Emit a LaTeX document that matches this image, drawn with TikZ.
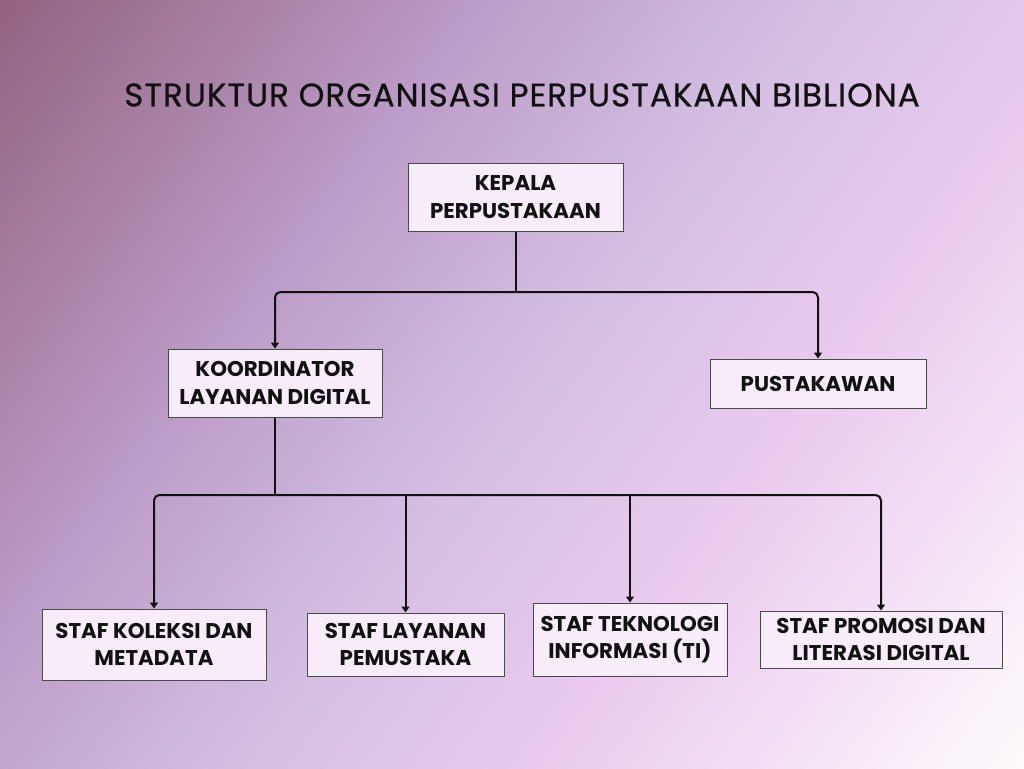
\documentclass[tikz,border=0pt]{standalone}
\usepackage{fontspec}
\setmainfont{Poppins}
\usepackage{xcolor}
\usepackage{tikz}
\usetikzlibrary{arrows.meta}

\definecolor{bgA}{HTML}{93627F}
\definecolor{bgB}{HTML}{BC9CC8}
\definecolor{bgC}{HTML}{D3BEE2}
\definecolor{bgD}{HTML}{EBCBEF}
\definecolor{bgE}{HTML}{FEFAFD}
\definecolor{boxfill}{HTML}{F8ECFB}
\definecolor{boxline}{HTML}{4A4A4A}
\definecolor{ink}{HTML}{111111}

\pgfdeclarehorizontalshading{bgshade}{100bp}{color(0bp)=(bgA); color(25bp)=(bgA); color(40bp)=(bgB); color(50bp)=(bgC); color(60bp)=(bgD); color(75bp)=(bgE); color(100bp)=(bgE)}

\begin{document}
\begin{tikzpicture}[x=0.75pt, y=-0.75pt,
        box/.style 2 args={rectangle, draw=boxline, line width=0.75pt, fill=boxfill, minimum width=#1*0.75pt, minimum height=#2*0.75pt, inner sep=0pt, align=center, text=ink, font=\bfseries\fontsize{16}{20.5}\selectfont},
        link/.style={draw=ink, line width=1.5pt},
        arrow/.style={link, rounded corners=4pt, -{Triangle[width=6pt, length=4.5pt]}}]
        \useasboundingbox (0,0) rectangle (1024,768);

        % Background
        \begin{scope}
            \clip (0,0) rectangle (1024,768);
            \shade[shading=bgshade, transform canvas={rotate around={-36.87:(512,384)}}] (-128,-256) rectangle (1152,1024);
        \end{scope}

        % Title
        \node[text=ink, font=\fontsize{24.5}{29}\selectfont\addfontfeatures{LetterSpace=3,FakeBold=0.6}] (title) at (522,95) {STRUKTUR ORGANISASI PERPUSTAKAAN BIBLIONA};

        % Head
        \node[box={215}{68}] (kepala) at (515.5,197) {KEPALA\\PERPUSTAKAAN};

        % Second level
        \node[box={214}{68}] (koord) at (275,383) {KOORDINATOR\\LAYANAN DIGITAL};
        \node[box={216}{49}] (pusta) at (818,383.5) {PUSTAKAWAN};

        % Staff
        \node[box={224}{71}] (s1) at (154,644.5) {STAF KOLEKSI DAN\\METADATA};
        \node[box={197}{63}] (s2) at (405.5,644.5) {STAF LAYANAN\\PEMUSTAKA};
        \node[box={194}{73}] (s3) at (630,639.5) {STAF TEKNOLOGI\\INFORMASI (TI)};
        \node[box={242}{57}] (s4) at (881,639.5) {STAF PROMOSI DAN\\LITERASI DIGITAL};

        % Junctions
        \coordinate (j1) at (515.5,292);
        \coordinate (j2) at (275,495);

        % Arrows
        \draw[link] (kepala.south) -- (j1);
        \draw[arrow] (j1) -| (koord.north);
        \draw[arrow] (j1) -| (pusta.north);
        \draw[link] (koord.south) -- (j2);
        \draw[arrow] (j2) -| (s1.north);
        \draw[arrow] (j2) -| (s4.north);
        \draw[arrow] (j2 -| s2.north) -- (s2.north);
        \draw[arrow] (j2 -| s3.north) -- (s3.north);
\end{tikzpicture}
\end{document}
